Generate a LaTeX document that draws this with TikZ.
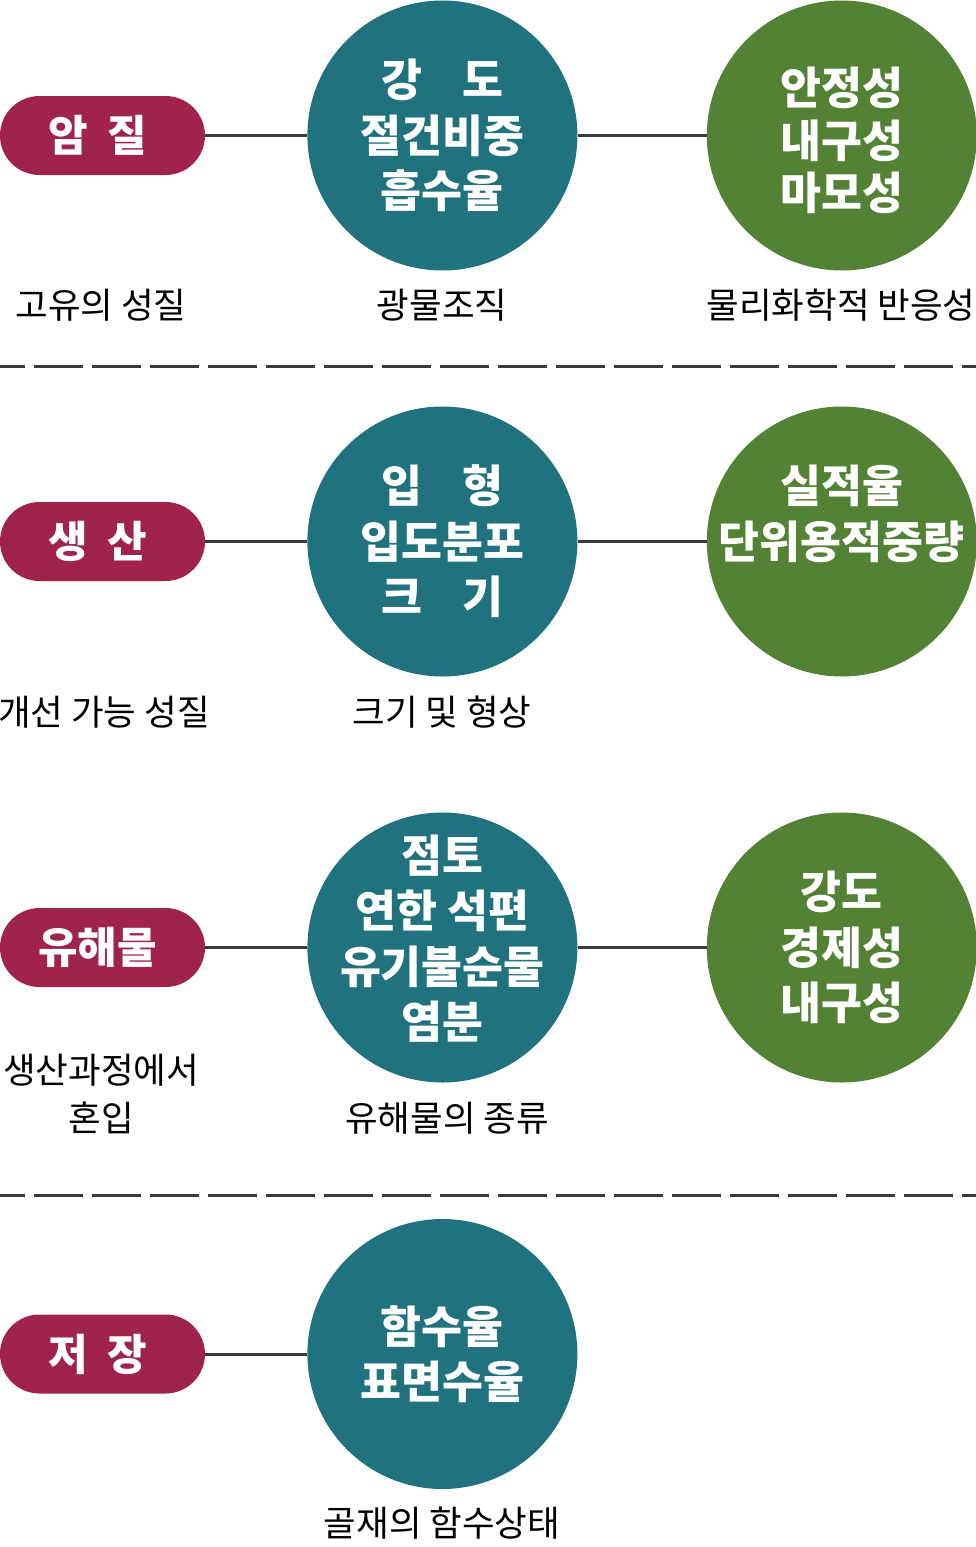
\documentclass[tikz,border=0pt]{standalone}
\usepackage{fontspec}
\setmainfont{Noto Sans CJK KR}
\usetikzlibrary{positioning}
\definecolor{stone}{HTML}{A0244A}
\definecolor{prop}{HTML}{20737E}
\definecolor{eff}{HTML}{548235}
\definecolor{linkc}{HTML}{3A3A3A}
\tikzset{
  cat/.style={fill=stone, rounded corners=39.5pt, minimum width=205pt,
              minimum height=79pt, inner sep=0pt, text=white,
              font=\fontsize{43}{48}\selectfont\bfseries,
              execute at end node=\hspace*{10pt}},
  item/.style={circle, fill=prop, minimum size=270pt, inner sep=-30pt,
               text=white, align=center,
               font=\fontsize{44.5}{55.5}\selectfont\bfseries},
  effect/.style={item, fill=eff},
  note/.style={font=\fontsize{35.5}{48}\selectfont, align=center, text=black},
  link/.style={draw=linkc, line width=3pt},
  sep/.style={draw=linkc, line width=3pt, dash pattern=on 49pt off 9pt,
              dash phase=24pt},
}
\begin{document}
\begin{tikzpicture}[x=1pt, y=-1pt]
  \useasboundingbox (0,0) rectangle (976,1547);

  % row 1
  \node[cat] (amjil) at (102.5,135.5) {암\hspace{0.45em}질};
  \node[item, right=102pt of amjil] (amjilA) {강\hspace{0.9em}도\\절건비중\\흡수율};
  \node[effect, right=129pt of amjilA] (amjilB) {\phantom{안}\\[-45pt]안정성\\[-3pt]내구성\\[-3pt]마모성};
  \node[note] (amjilN) at (101,305) {고유의 성질};
  \node[note] (amjilAN) at (442,305) {광물조직};
  \node[note] (amjilBN) at (841,305) {물리화학적 반응성};

  \coordinate (sepAl) at (0,366);
  \coordinate (sepAr) at (976,366);
  \draw[sep] (sepAl) -- (sepAr);

  % row 2
  \node[cat] (prod) at (102.5,541.5) {생\hspace{0.45em}산};
  \node[item, right=102pt of prod] (prodA) {입\hspace{0.9em}형\\입도분포\\크\hspace{0.9em}기};
  \node[effect, right=129pt of prodA] (prodB) {실적율\\단위용적중량\\\phantom{실}};
  \node[note] (prodN) at (104,712) {개선 가능 성질};
  \node[note] (prodAN) at (442,712) {크기 및 형상};

  % row 3
  \node[cat] (harm) at (102.5,947.5) {유해물};
  \node[item, right=102pt of harm] (harmA) {점토\\연한 석편\\유기불순물\\염분\\[-38pt]\phantom{염}};
  \node[effect, right=129pt of harmA] (harmB) {강도\\경제성\\내구성};
  \node[note] (harmN) at (101,1094) {생산과정에서\\혼입};
  \node[note] (harmAN) at (447,1118) {유해물의 종류};

  \coordinate (sepBl) at (0,1195);
  \coordinate (sepBr) at (976,1195);
  \draw[sep] (sepBl) -- (sepBr);

  % row 4
  \node[cat] (store) at (102.5,1354) {저\hspace{0.45em}장};
  \node[item, right=102pt of store] (storeA) {함수율\\표면수율};
  \node[note] (storeAN) at (442,1523) {골재의 함수상태};

  \foreach \a/\b in {amjil/amjilA, amjilA/amjilB, prod/prodA, prodA/prodB,
                     harm/harmA, harmA/harmB, store/storeA}
    \draw[link] (\a) -- (\b);
\end{tikzpicture}
\end{document}
